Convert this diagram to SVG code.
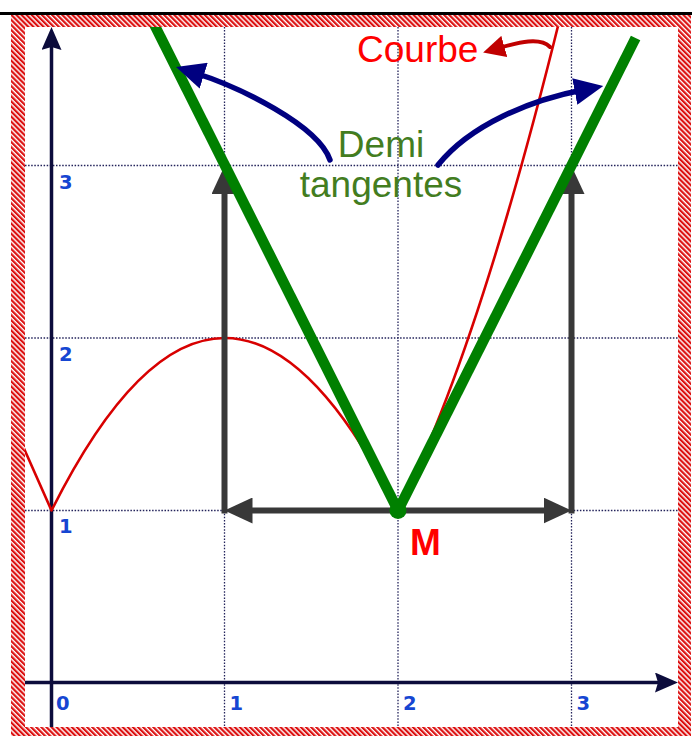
<svg xmlns="http://www.w3.org/2000/svg" width="694" height="736" viewBox="0 0 694 736">
<style>
.grid{stroke:#22225a;stroke-width:1.3;stroke-dasharray:1.5 1.6;fill:none}
.axis{stroke:#0c0c3c;stroke-width:3.5;fill:none}
.tick{font-family:"DejaVu Sans",Verdana,sans-serif;font-weight:bold;font-size:19.5px;fill:#1646d2}
.curve{stroke:#d80000;stroke-width:2.6;fill:none;stroke-linejoin:round}
.tan{stroke:#008000;stroke-width:10.5;fill:none}
.garrow{stroke:#383838;stroke-width:6;fill:none}
.barrow{stroke:#000080;stroke-width:5.5;fill:none;stroke-linecap:round}
.rarrow{stroke:#c00000;stroke-width:4;fill:none;stroke-linecap:round}
.lbl{font-family:"Liberation Sans",Arial,sans-serif;font-size:37px}
</style>
<defs>
<pattern id="hatch" width="3.6" height="3.6" patternUnits="userSpaceOnUse" patternTransform="rotate(-45)">
<rect width="3.6" height="3.6" fill="#ffffff"/>
<rect width="2.2" height="3.6" fill="#dc1010"/>
</pattern>
<marker id="ah-axis" viewBox="0 0 23 20" refX="17" refY="10" markerWidth="23" markerHeight="20" markerUnits="userSpaceOnUse" orient="auto">
<path d="M0,0 L23,10 L0,20 L3,10 z" fill="#0c0c3c"/>
</marker>
<marker id="ah-grey" viewBox="0 0 28 26" refX="18" refY="13" markerWidth="28" markerHeight="26" markerUnits="userSpaceOnUse" orient="auto-start-reverse">
<path d="M0,0 L28,13 L0,26 z" fill="#383838"/>
</marker>
<marker id="ah-blue" viewBox="0 0 29 27" refX="9" refY="13.5" markerWidth="29" markerHeight="27" markerUnits="userSpaceOnUse" orient="auto">
<path d="M0,0 L29,13.5 L0,27 z" fill="#000080"/>
</marker>
<marker id="ah-red" viewBox="0 0 22 22" refX="8" refY="11" markerWidth="22" markerHeight="22" markerUnits="userSpaceOnUse" orient="auto">
<path d="M0,0 L22,11 L0,22 z" fill="#c00000"/>
</marker>
</defs>
<rect width="694" height="736" fill="#ffffff"/>
<g id="grid">
<line class="grid" x1="224.5" y1="27" x2="224.5" y2="727"/>
<line class="grid" x1="398" y1="27" x2="398" y2="727"/>
<line class="grid" x1="571.5" y1="27" x2="571.5" y2="727"/>
<line class="grid" x1="25" y1="165.5" x2="678" y2="165.5"/>
<line class="grid" x1="25" y1="338" x2="678" y2="338"/>
<line class="grid" x1="25" y1="510.5" x2="678" y2="510.5"/>
</g>
<g id="axes">
<line class="axis" x1="51.5" y1="727" x2="51.5" y2="33" marker-end="url(#ah-axis)"/>
<line class="axis" x1="25" y1="682.5" x2="672" y2="682.5" marker-end="url(#ah-axis)"/>
<text class="tick" x="56" y="710">0</text>
<text class="tick" x="229.5" y="710">1</text>
<text class="tick" x="403" y="710">2</text>
<text class="tick" x="576.5" y="710">3</text>
<text class="tick" x="59" y="533">1</text>
<text class="tick" x="59" y="361">2</text>
<text class="tick" x="59" y="188.5">3</text>
</g>
<g id="courbe">
<path class="curve" d="M22,444 L51.5,510.5 Q224.5,165.5 398,510.5 Q477.6,352.2 560,18"/>
</g>
<g id="connectors">
<line class="garrow" x1="224.5" y1="513.5" x2="224.5" y2="176" marker-end="url(#ah-grey)"/>
<line class="garrow" x1="571.5" y1="513.5" x2="571.5" y2="176" marker-end="url(#ah-grey)"/>
<line class="garrow" x1="234.5" y1="510.5" x2="561.5" y2="510.5" marker-start="url(#ah-grey)" marker-end="url(#ah-grey)"/>
</g>
<g id="demi-tangentes-lines">
<line class="tan" x1="398" y1="510.5" x2="151" y2="18"/>
<line class="tan" x1="398" y1="510.5" x2="635.6" y2="38"/>
<circle cx="398" cy="510.5" r="8.5" fill="#008000"/>
</g>
<g id="label-arrows">
<path class="barrow" d="M330,160 C318,125 238,86.5 195.1,73" marker-end="url(#ah-blue)"/>
<path class="barrow" d="M438,165 C470,125 530,100 583.6,89.7" marker-end="url(#ah-blue)"/>
<path class="rarrow" d="M550,47 C540,37 520,42 496.6,48.6" marker-end="url(#ah-red)"/>
</g>
<g id="label-courbe">
<text class="lbl" x="357" y="62" fill="#ff0000">Courbe</text>
</g>
<g id="label-demi-tangentes">
<text class="lbl" x="381" y="157" fill="#437d1f" text-anchor="middle">Demi</text>
<text class="lbl" x="381" y="197" fill="#437d1f" text-anchor="middle">tangentes</text>
</g>
<g id="label-m">
<text class="lbl" x="410" y="555" fill="#ff0000" font-weight="bold">M</text>
</g>
<g id="frame">
<rect x="0" y="12" width="692" height="3" fill="#000000"/>
<path d="M11,15 H691 V736 H11 Z M25,27 V727 H678 V27 Z" fill="url(#hatch)" fill-rule="evenodd"/>
</g>
</svg>
